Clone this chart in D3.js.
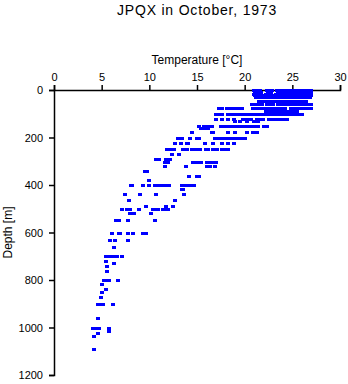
<!DOCTYPE html>
<html>
<head>
<meta charset="utf-8">
<script src="https://cdn.jsdelivr.net/npm/d3@7"></script>
<style>
  html, body { margin: 0; padding: 0; background: #fff; }
  svg { display: block; font-family: "Liberation Sans", Arial, Helvetica, sans-serif; }
</style>
</head>
<body>
<svg id="chart" width="348" height="384"></svg>
<script>
const title = "JPQX in October, 1973";
const xLabel = "Temperature [\u00B0C]";
const yLabel = "Depth [m]";
const xTicks = [0, 5, 10, 15, 20, 25, 30];
const yTicks = [0, 200, 400, 600, 800, 1000, 1200];

// depth levels (m) and the temperatures (°C) observed at each level
const depthLevels = [
  0, 8, 15, 20, 25, 30, 47, 60, 75, 88, 100, 122, 130, 152, 158, 177, 202, 225, 248, 268, 290, 303,
  322, 341, 364, 379, 398, 415, 438, 465, 490, 501, 517, 548, 600, 630, 661, 701, 720, 730,
  741, 762, 802, 818, 838, 851, 872, 901, 960, 1000, 1003, 1015, 1023, 1036, 1091
];
const temperatureSets = [
  [21.0,21.3,21.6,22.3,22.6,22.9,23.4,23.7,24.0,24.3,24.6,24.9,25.2,25.5,25.8,26.1,26.4,26.7,27.0],
  [21.1,21.4,21.7,22.4,22.8,23.5,23.8,24.1,24.4,24.7,25.0,25.3,25.6,25.9,26.2,26.5,26.8,27.0],
  [21.0,21.3,21.6,22.2,22.5,22.8,23.3,23.6,23.9,24.2,24.5,24.8,25.1,25.4,25.7,26.0,26.3,26.6,26.9],
  [21.1,21.4,21.7,22.0,22.3,22.6,22.9,23.2,23.5,23.8,24.1,24.4,24.7,25.0,25.3,25.6,25.9,26.2,26.5,26.8,27.0],
  [21.2,21.5,21.8,22.1,22.4,22.7,23.0,23.3,23.6,23.9,24.2,24.5,24.8,25.1,25.4,25.7,26.0,26.3,26.6,26.9],
  [21.2,21.5,21.8,22.1,22.4,22.7,23.0,23.3,23.6,23.9,24.2,24.5,24.8,25.1,25.4,25.7,26.0,26.3,26.6,26.9],
  [21.5,21.8,22.1,22.4,22.7,23.0,23.3,23.6,23.9,24.2,24.5,24.8,25.1,25.4,25.7,26.0,26.4],
  [20.8,21.1,21.4,21.8,22.3,22.6,23.0,23.5,23.8,24.1,24.4,24.8,25.2,25.5,25.8,26.1,26.4,26.7,27.0],
  [17.3,17.6,18.1,18.5,18.8,19.1,19.4,19.7,20.9,21.2,21.5,21.8,22.1,22.4,22.7,23.0,23.3,23.6,23.9,24.2,24.9,25.2,25.5,25.8,26.1,26.4,26.7,27.0],
  [22.2,22.5,22.8,23.0,23.4,23.7,24.0,24.3,24.6,24.9,25.2,25.5],
  [17.0,17.3,17.6,18.2,18.5,18.8,19.1,19.4,19.7,20.0,20.4,20.7,21.0,21.3,21.6,21.9,22.2,22.5,22.8,23.1,23.5,23.8,24.1,24.4,24.7,25.0,25.3,25.6,26.0],
  [17.0,17.6,18.2,18.9,19.8,20.1,20.4,20.7,21.3,21.6,21.9,22.6,22.9,23.2,23.5,23.8,24.1,24.4],
  [19.0,19.5,20.2,21.0,21.4],
  [15.2,15.7,16.2,16.6,17.5,17.8,18.1,18.4,18.7,19.0,19.3,19.6,19.9,20.2,20.5,20.8,21.1,21.4,22.0,22.3],
  [15.4,15.8,16.2],
  [14.5,16.6,16.7,18.2,19.0,20.2,20.9,21.3],
  [13.0,13.4,14.3,15.0,15.2,16.9,17.2,17.5,17.8,18.1,18.4,18.7,19.0,19.3,19.6,19.8,20.0],
  [12.7,13.3,14.0,14.1,15.8,16.7,17.6,18.2,18.9],
  [11.9,12.1,12.4,12.6,13.5,13.9,14.5,14.8,15.0,15.3,15.9,16.2,16.7,17.1,17.6,18.0,18.3],
  [12.4,13.1],
  [10.7,11.0,11.7,12.2],
  [11.6,12.0,14.6,14.9,15.1,15.4,16.1,16.4,16.7,17.0],
  [11.6,13.8,16.0,16.4,16.9],
  [9.5,9.8],
  [14.2,15.0,15.2],
  [10.0],
  [8.1,8.2,9.3,10.0,10.6,10.9,11.3,11.6,11.9,12.1,13.4,13.7,14.0,14.3,14.7],
  [13.4,13.5],
  [7.4,9.0,10.7,13.6],
  [7.9,12.7],
  [9.6,11.7,12.5],
  [7.1,7.7,8.0,8.9,10.4,10.6,10.8,10.9,11.4,11.6,12.0],
  [8.0,8.4,10.2],
  [6.5,6.8,7.8,10.6],
  [6.1,6.8,6.9,7.8,8.3,9.3,9.6],
  [5.9,6.4,7.8],
  [6.3],
  [5.5,5.8,6.0,6.3,6.6,7.1],
  [5.5],
  [6.3],
  [5.6],
  [5.6],
  [5.2,5.5,5.8,6.7],
  [5.0],
  [5.5],
  [5.0],
  [4.9],
  [4.6,4.8,5.1,6.2],
  [4.6],
  [4.1,4.4,4.7],
  [5.8],
  [5.8],
  [4.6],
  [4.2],
  [4.2]
];

const points = [];
depthLevels.forEach((d, i) => temperatureSets[i].forEach(t => points.push({t, d})));

const svg = d3.select("#chart");
const mLeft = 54, mRight = 340, mTop = 90, mBottom = 375;
const x = d3.scaleLinear().domain([0, 30]).range([mLeft, mRight]);
const y = d3.scaleLinear().domain([0, 1200]).range([mTop, mBottom]);

// title
svg.append("text")
  .attr("x", 197).attr("y", 15)
  .attr("text-anchor", "middle")
  .attr("font-size", 14).attr("letter-spacing", 0.8)
  .attr("fill", "#000")
  .text(title);

// x axis (top)
const xAxis = svg.append("g")
  .attr("transform", `translate(0,${mTop})`)
  .call(d3.axisTop(x).tickValues(xTicks).tickSize(5).tickPadding(4).tickFormat(d3.format("d")));
xAxis.selectAll("text").attr("font-size", 11).attr("fill", "#000").attr("font-family", null);

svg.append("text")
  .attr("x", 197).attr("y", 64)
  .attr("text-anchor", "middle")
  .attr("font-size", 12)
  .attr("fill", "#000")
  .text(xLabel);

// y axis (left)
const yAxis = svg.append("g")
  .attr("transform", `translate(${mLeft},0)`)
  .call(d3.axisLeft(y).tickValues(yTicks).tickSize(5).tickPadding(6).tickFormat(d3.format("d")));
yAxis.selectAll("text").attr("font-size", 11).attr("fill", "#000").attr("font-family", null);

svg.selectAll(".domain").attr("stroke", "#000").attr("stroke-width", 1.5);
svg.selectAll(".tick line").attr("stroke", "#000").attr("stroke-width", 1.5);

svg.append("text")
  .attr("transform", `translate(12,${(mTop + mBottom) / 2}) rotate(-90)`)
  .attr("text-anchor", "middle")
  .attr("font-size", 12)
  .attr("fill", "#000")
  .text(yLabel);

// points
svg.append("g").attr("shape-rendering", "crispEdges").selectAll("rect")
  .data(points)
  .join("rect")
  .attr("x", p => Math.round(x(p.t)) - 2)
  .attr("y", p => Math.round(y(p.d)) - 1)
  .attr("width", 4)
  .attr("height", 3)
  .attr("fill", "#0000ff");
</script>
</body>
</html>
